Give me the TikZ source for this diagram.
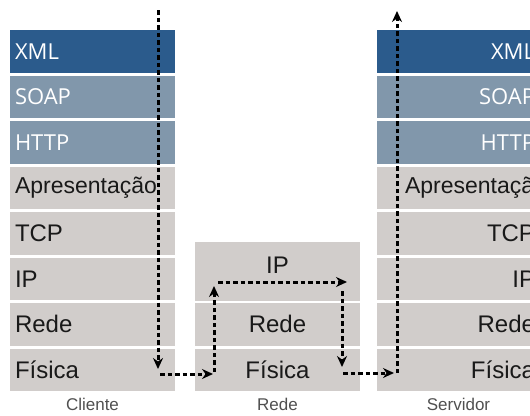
\documentclass[tikz,border=0pt]{standalone}
\usepackage{fontspec}
\setmainfont{Liberation Sans}
\newfontfamily\fonteapp{Open Sans}
\usetikzlibrary{arrows.meta}
\definecolor{azulxml}{HTML}{2B5B8C}
\definecolor{azulcinza}{HTML}{8197AB}
\definecolor{cinzacamada}{HTML}{D1CDCB}
\definecolor{cinzarotulo}{HTML}{505050}

\begin{document}
\begin{tikzpicture}[x=1pt,y=-1pt]
\tikzstyle{every node}=[inner ysep=0pt,inner xsep=5pt];
\tikzstyle{camada}=[rectangle,minimum height=42.5pt,fill=cinzacamada,text=black!90,font=\fontsize{24}{24}\selectfont];
\tikzstyle{app}=[camada,text=white,font=\fonteapp\fontsize{22}{22}\selectfont];
\tikzstyle{esq}=[text width=155pt,align=left];
\tikzstyle{dir}=[text width=153pt,align=right];
\tikzstyle{meio}=[text width=155pt,align=center];
\tikzstyle{rotulo}=[text=cinzarotulo,font=\fontsize{17}{17}\selectfont];
\tikzstyle{seta}=[draw=black,line width=3pt,dash pattern=on 4.5pt off 3pt,-{Stealth[length=11pt,width=10pt]}];

\useasboundingbox (0,0) rectangle (530,415);
\clip (0,0) rectangle (530,415);

% cliente
\node[app,esq,fill=azulxml] (cli-xml) at (92.5,51.25) {XML};
\node[app,esq,fill=azulcinza] (cli-soap) at (92.5,96.75) {SOAP};
\node[app,esq,fill=azulcinza] (cli-http) at (92.5,142.25) {HTTP};
\node[camada,esq] (cli-apr) at (92.5,187.75) {\fontsize{23}{23}\selectfont Apresentação};
\node[camada,esq] (cli-tcp) at (92.5,233.25) {TCP};
\node[camada,esq] (cli-ip) at (92.5,278.75) {IP};
\node[camada,esq] (cli-rede) at (92.5,324.25) {Rede};
\node[camada,esq] (cli-fis) at (92.5,369.75) {Física};

% rede
\node[camada,meio,minimum height=58.5pt] (red-ip) at (277.5,271.25) {};
\node[camada,meio,fill=none] (red-iptxt) at (277.5,265) {IP};
\node[camada,meio] (red-rede) at (277.5,324.25) {Rede};
\node[camada,meio] (red-fis) at (277.5,369.75) {Física};

% servidor
\node[app,dir,fill=azulxml] (ser-xml) at (458.5,51.25) {XML};
\node[app,dir,fill=azulcinza] (ser-soap) at (458.5,96.75) {SOAP};
\node[app,dir,fill=azulcinza] (ser-http) at (458.5,142.25) {HTTP};
\node[camada,dir,text width=165pt] (ser-apr) at (464.5,187.75) {\fontsize{23}{23}\selectfont Apresentação};
\node[camada,dir] (ser-tcp) at (458.5,233.25) {TCP};
\node[camada,dir] (ser-ip) at (458.5,278.75) {IP};
\node[camada,dir] (ser-rede) at (458.5,324.25) {Rede};
\node[camada,dir] (ser-fis) at (458.5,369.75) {Física};

\node[rotulo] (cli-rot) at (92.5,404) {Cliente};
\node[rotulo] (red-rot) at (277.5,404) {Rede};
\node[rotulo] (ser-rot) at (458.5,404) {Servidor};

% caminho da mensagem
\coordinate (a0) at (158,10);
\coordinate (a1) at (158,369);
\coordinate (b0) at (160,374);
\coordinate (b1) at (213,374);
\coordinate (c0) at (214,372);
\coordinate (c1) at (214,286);
\coordinate (d0) at (218,282);
\coordinate (d1) at (347,282);
\coordinate (e0) at (342,291);
\coordinate (e1) at (342,367);
\coordinate (f0) at (343,373);
\coordinate (f1) at (394,373);
\coordinate (g0) at (397,373);
\coordinate (g1) at (397,11);
\draw[seta] (a0) -- (a1);
\draw[seta] (b0) -- (b1);
\draw[seta] (c0) -- (c1);
\draw[seta] (d0) -- (d1);
\draw[seta] (e0) -- (e1);
\draw[seta] (f0) -- (f1);
\draw[seta] (g0) -- (g1);
\end{tikzpicture}
\end{document}
